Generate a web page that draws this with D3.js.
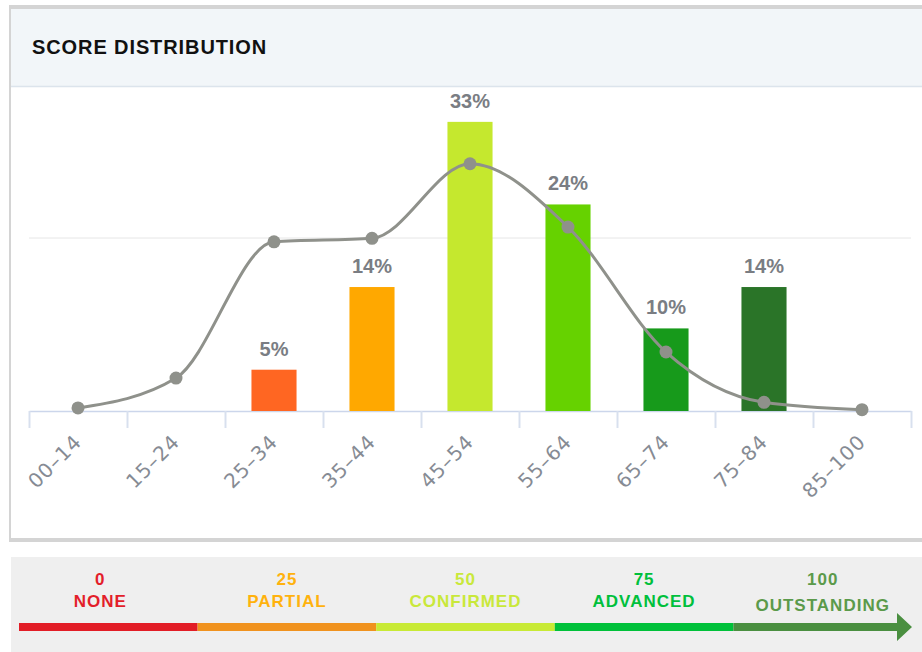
<!DOCTYPE html>
<html>
<head>
<meta charset="utf-8">
<script src="https://cdn.jsdelivr.net/npm/d3@7"></script>
<style>
  body { margin: 0; background: #fff; }
  svg { display: block; }
</style>
</head>
<body>
<div id="root"></div>
<script>
const width = 922;
const height = 652;

// score bands and share of students (%)
const categories = ['00–14', '15–24', '25–34', '35–44', '45–54', '55–64', '65–74', '75–84', '85–100'];
const barValues = [0, 0, 4.76, 14.29, 33.33, 23.81, 9.52, 14.29, 0];
const barColors = ['#e31e24', '#f0921e', '#ff6622', '#ffa800', '#c5e82e', '#66d200', '#179a1b', '#2a7428', '#2a7428'];
// smoothed distribution curve
const curveValues = [0.35, 3.8, 19.5, 19.9, 28.5, 21.2, 6.8, 1.0, 0.15];
const gridValues = [20];

// legend
const legendScores = ['0', '25', '50', '75', '100'];
const legendNames = ['NONE', 'PARTIAL', 'CONFIRMED', 'ADVANCED', 'OUTSTANDING'];
const legendTextColors = ['#e31e2a', '#ffb20d', '#c9e83a', '#00c03c', '#5b9a4a'];
const legendBarColors = ['#e21d26', '#f0921e', '#c8ea35', '#00c13a', '#4a8f40'];

const svg = d3.select('#root')
  .append('svg')
  .attr('width', width).attr('height', height);

// card
svg.append('rect')
  .attr('x', 9).attr('y', 5).attr('width', 920).attr('height', 537)
  .attr('fill', '#d4d4d4');
svg.append('rect')
  .attr('x', 11).attr('y', 9).attr('width', 915).attr('height', 529)
  .attr('fill', '#fff');
svg.append('rect')
  .attr('x', 11).attr('y', 9).attr('width', 915).attr('height', 77)
  .attr('fill', '#f2f6f9');
svg.append('line')
  .attr('x1', 11).attr('x2', 926).attr('y1', 86.5).attr('y2', 86.5)
  .attr('stroke', '#dce4ec').attr('stroke-width', 1.5);
svg.append('text')
  .attr('x', 32).attr('y', 54)
  .attr('font-family', 'Liberation Sans, Arial, sans-serif')
  .attr('font-weight', 'bold')
  .attr('font-size', 20)
  .attr('letter-spacing', 0.9)
  .attr('fill', '#111')
  .text('SCORE DISTRIBUTION');

const plot = {left: 29, right: 911, top: 64, bottom: 411};

const x = d3.scaleBand()
  .domain(categories)
  .range([plot.left, plot.right]);
const xEdge = d3.scaleLinear()
  .domain([0, categories.length])
  .range([plot.left, plot.right]);
const y = d3.scaleLinear()
  .domain([0, 40])
  .range([plot.bottom, plot.top]);

const cx = d => x(d) + x.bandwidth() / 2;
const barW = x.bandwidth() * 0.46;

// grid
svg.append('g')
  .selectAll('line')
  .data(gridValues).enter()
  .append('line')
  .attr('x1', plot.left).attr('x2', plot.right)
  .attr('y1', d => y(d) + 0.5).attr('y2', d => y(d) + 0.5)
  .attr('stroke', '#e6e6e6');

// x axis with ticks between categories
const xAxis = d3.axisBottom(xEdge)
  .tickValues(d3.range(categories.length + 1))
  .tickFormat('')
  .tickSize(17)
  .tickSizeOuter(0);
const gx = svg.append('g')
  .attr('transform', `translate(0, ${plot.bottom})`)
  .call(xAxis);
gx.select('.domain').attr('stroke', '#ccd6eb').attr('stroke-width', 1.5);
gx.selectAll('.tick line').attr('stroke', '#d8e0ee').attr('stroke-width', 2);

gx.selectAll('.lbl')
  .data(categories).enter()
  .append('text')
  .attr('class', 'lbl')
  .attr('transform', d => `translate(${cx(d) + 5}, 32) rotate(-45)`)
  .attr('text-anchor', 'end')
  .attr('font-family', 'DejaVu Sans, Verdana, sans-serif')
  .attr('font-size', 20)
  .attr('letter-spacing', 1)
  .attr('fill', '#868b94')
  .text(d => d);

// bars
const bars = categories.map((c, i) => ({c, v: barValues[i], color: barColors[i]}))
  .filter(d => d.v > 0);

svg.append('g')
  .selectAll('rect')
  .data(bars).enter()
  .append('rect')
  .attr('x', d => cx(d.c) - barW / 2)
  .attr('y', d => y(d.v))
  .attr('width', barW)
  .attr('height', d => plot.bottom - y(d.v))
  .attr('fill', d => d.color);

svg.append('g')
  .selectAll('text')
  .data(bars).enter()
  .append('text')
  .attr('x', d => cx(d.c))
  .attr('y', d => y(d.v) - 14)
  .attr('text-anchor', 'middle')
  .attr('font-family', 'Liberation Sans, Arial, sans-serif')
  .attr('font-weight', 'bold')
  .attr('font-size', 20)
  .attr('fill', '#7a7d83')
  .text(d => Math.round(d.v) + '%');

// curve
const line = d3.line()
  .x((d, i) => cx(categories[i]))
  .y(d => y(d))
  .curve(d3.curveMonotoneX);

svg.append('path')
  .datum(curveValues)
  .attr('d', line)
  .attr('fill', 'none')
  .attr('stroke', '#8f918b')
  .attr('stroke-width', 3);

svg.append('g')
  .selectAll('circle')
  .data(curveValues).enter()
  .append('circle')
  .attr('cx', (d, i) => cx(categories[i]))
  .attr('cy', d => y(d))
  .attr('r', 6.5)
  .attr('fill', '#8f918b');

// legend strip
svg.append('rect')
  .attr('x', 11).attr('y', 557).attr('width', 911).attr('height', 95)
  .attr('fill', '#efefef');

const lx = d3.scaleBand()
  .domain(legendNames)
  .range([19, 912]);

const lg = svg.append('g');
lg.selectAll('.seg')
  .data(legendNames).enter()
  .append('path')
  .attr('class', 'seg')
  .attr('d', (d, i) => {
    const x0 = lx(d), x1 = lx(d) + lx.bandwidth();
    if (i < legendNames.length - 1) {
      return `M${x0},623 H${x1} V631 H${x0} Z`;
    }
    const xa = x1 - 15;
    return `M${x0},623 H${xa} V613 L${x1},627 L${xa},641 V631 H${x0} Z`;
  })
  .attr('fill', (d, i) => legendBarColors[i]);

lg.selectAll('.score')
  .data(legendScores).enter()
  .append('text')
  .attr('class', 'score')
  .attr('x', (d, i) => lx(legendNames[i]) + lx.bandwidth() / 2 - (i === 0 ? 8 : 0))
  .attr('y', 585)
  .attr('text-anchor', 'middle')
  .attr('font-family', 'Liberation Sans, Arial, sans-serif')
  .attr('font-weight', 'bold')
  .attr('font-size', 17)
  .attr('letter-spacing', 1)
  .attr('fill', (d, i) => legendTextColors[i])
  .text(d => d);

lg.selectAll('.name')
  .data(legendNames).enter()
  .append('text')
  .attr('class', 'name')
  .attr('x', (d, i) => lx(d) + lx.bandwidth() / 2 - (i === 0 ? 8 : 0))
  .attr('y', (d, i) => i === legendNames.length - 1 ? 611 : 607)
  .attr('text-anchor', 'middle')
  .attr('font-family', 'Liberation Sans, Arial, sans-serif')
  .attr('font-weight', 'bold')
  .attr('font-size', 17)
  .attr('letter-spacing', 1)
  .attr('fill', (d, i) => legendTextColors[i])
  .text(d => d);
</script>
</body>
</html>
